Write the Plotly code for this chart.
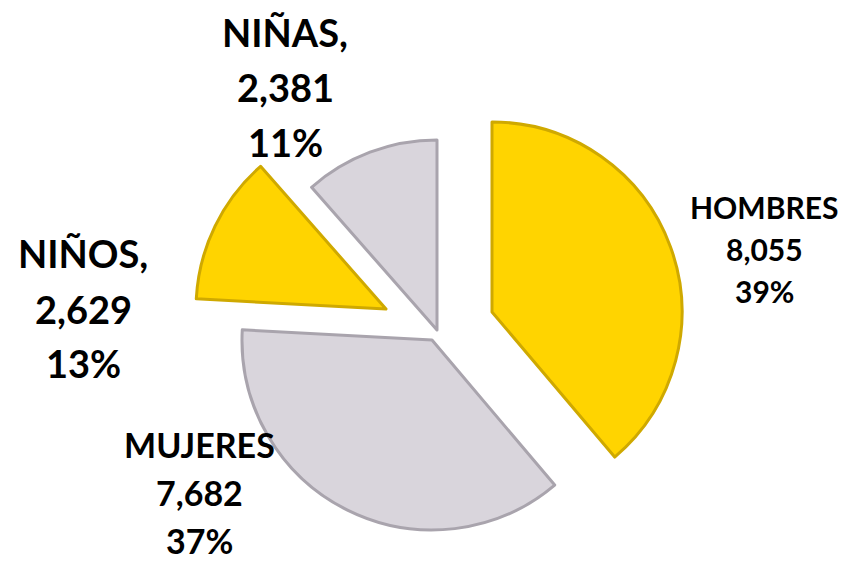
import plotly.graph_objects as go

# data
labels = ['HOMBRES', 'MUJERES', 'NIÑOS', 'NIÑAS']
values = [8055, 7682, 2629, 2381]
pcts = ['39%', '37%', '13%', '11%']
val_txt = ['8,055', '7,682', '2,629', '2,381']
name_txt = ['HOMBRES', 'MUJERES', 'NIÑOS,', 'NIÑAS,']

# the page body has an 8px margin, so the figure is 8px smaller on each side
OFF = 8
W, H = 848 - OFF, 561 - OFF
R = 190  # slice radius in px

fills = ['#FFD400', '#D9D5DC', '#FFD400', '#D9D5DC']
edges = ['#CFA900', '#A9A4AD', '#CFA900', '#A9A4AD']


def px(sx, sy):
    # screen pixel -> paper coords
    return (sx - OFF) / W, 1 - (sy - OFF) / H


# each slice is drawn by its own pie (others transparent) so it can be
# "exploded" to its own spot, like the Excel chart
apex = {
    'HOMBRES': (492, 312),
    'MUJERES': (432, 340),
    'NIÑOS': (386, 309),
    'NIÑAS': (437, 330),
}

fig = go.Figure()
for i, lab in enumerate(labels):
    cx, cy = apex[lab]
    x0, y1 = px(cx - R, cy - R)
    x1, y0 = px(cx + R, cy + R)
    cols = ['rgba(0,0,0,0)'] * len(labels)
    lcols = ['rgba(0,0,0,0)'] * len(labels)
    cols[i] = fills[i]
    lcols[i] = edges[i]
    fig.add_trace(go.Pie(
        labels=labels,
        values=values,
        sort=False,
        direction='clockwise',
        rotation=0,
        textinfo='none',
        hoverinfo='skip',
        marker=dict(colors=cols, line=dict(color=lcols, width=3)),
        domain=dict(x=[x0, x1], y=[y0, y1]),
        showlegend=False,
    ))

# label placement (pixel centre of each text line) and font size
lab_pos = {
    'HOMBRES': (764, [208, 250, 292], 30),
    'MUJERES': (199, [447, 495, 543], 34),
    'NIÑOS': (83, [256, 312, 366], 38),
    'NIÑAS': (285, [35, 90, 145], 38),
}

for i, lab in enumerate(labels):
    x, ys, fs = lab_pos[lab]
    lines = [name_txt[i], val_txt[i], pcts[i]]
    for t, y in zip(lines, ys):
        ax, ay = px(x, y - (0.3 * fs - OFF))
        fig.add_annotation(
            x=ax, y=ay, xref='paper', yref='paper',
            text='<b>%s</b>' % t, showarrow=False,
            xanchor='center', yanchor='middle',
            font=dict(family='Lato', size=fs, color='black', weight=900),
        )

fig.update_layout(
    width=W, height=H,
    margin=dict(l=0, r=0, t=0, b=0),
    paper_bgcolor='white',
    plot_bgcolor='white',
)
fig.write_html('out.html')
